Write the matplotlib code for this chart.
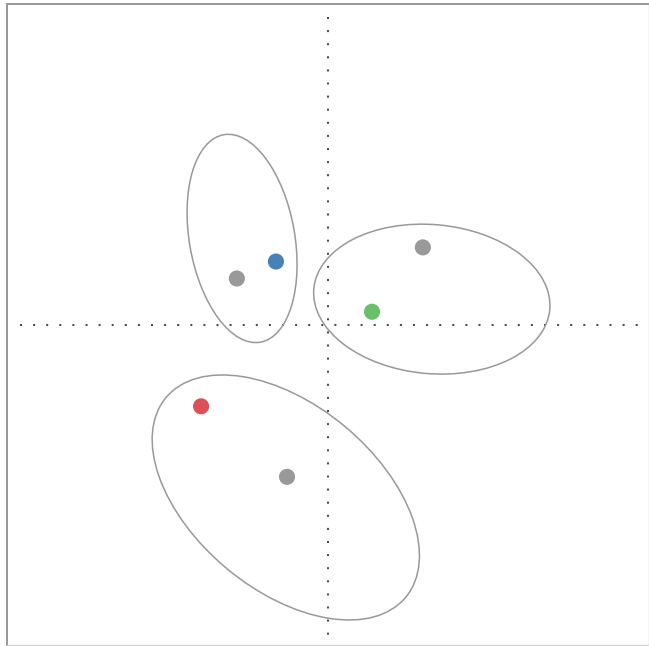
import matplotlib
matplotlib.use("Agg")
import matplotlib.pyplot as plt
from matplotlib.patches import Ellipse

# points (x, y) and colours
point_x = [-0.296, -0.169, 0.308, 0.143, -0.412, -0.133]
point_y = [0.151, 0.206, 0.252, 0.043, -0.264, -0.493]
point_colors = ["#999999", "#4682b4", "#999999", "#6abf69", "#dc505a", "#999999"]

# ellipses: centre, width, height, angle
ell_cx = [-0.279, 0.337, -0.137]
ell_cy = [0.281, 0.084, -0.560]
ell_w = [0.342, 0.769, 1.013]
ell_h = [0.684, 0.484, 0.600]
ell_angle = [10, -5, -39.8]

W, H = 649, 646
fig = plt.figure(figsize=(W / 100, H / 100), dpi=100)
# axes box in pixels: left 7, right 649, top 3.5, bottom 645
ax = fig.add_axes([7 / W, (H - 645) / H, (649 - 7) / W, (645 - 3.5) / H])

scale = 308.0
ax.set_xlim((7 - 328) / scale, (649 - 328) / scale)
ax.set_ylim((325 - 645) / scale, (325 - 3.5) / scale)
ax.set_xticks([])
ax.set_yticks([])
for side in ["left", "top"]:
    ax.spines[side].set_color("#999999")
    ax.spines[side].set_linewidth(1.44)
for side in ["right", "bottom"]:
    ax.spines[side].set_color("#d4d4d4")
    ax.spines[side].set_linewidth(1.0)

# dotted axes through the origin
dot_style = dict(color="#4a4a4a", lw=1.44, linestyle=(0, (1, 5.55)), zorder=1)
ax.plot([-1, 1.006], [0, 0], **dot_style)
ax.plot([0, 0], [1, -1.006], **dot_style)

for cx, cy, w, h, a in zip(ell_cx, ell_cy, ell_w, ell_h, ell_angle):
    ax.add_patch(Ellipse((cx, cy), w, h, angle=a, fill=False,
                         edgecolor="#999999", lw=1.1, zorder=2))

ax.scatter(point_x, point_y, s=135, c=point_colors, edgecolors="none", zorder=3)

fig.savefig("out.png", dpi=100)
